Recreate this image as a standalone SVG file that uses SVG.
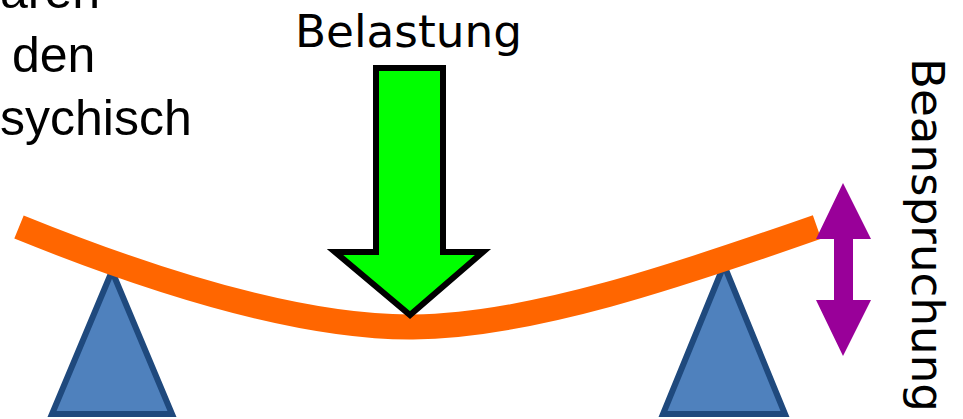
<svg xmlns="http://www.w3.org/2000/svg" width="963" height="419" viewBox="0 0 963 419">
<style>
.lbl{font-family:"Liberation Sans",Arial,sans-serif;font-size:50px;fill:#000}
.tah{font-family:"DejaVu Sans",Verdana,sans-serif;fill:#000}
.sup{fill:#4F81BD;stroke:#1F497D;stroke-width:6;stroke-linejoin:miter}
</style>
<rect width="963" height="419" fill="#fff"/>
<g id="side-text">
<text class="lbl" x="0" y="8">aren</text>
<text class="lbl" x="12" y="72">den</text>
<text class="lbl" x="0" y="135">sychisch</text>
</g>
<g id="support-left"><polygon class="sup" points="112,271 52,414 172,414"/></g>
<g id="support-right"><polygon class="sup" points="724,265 663,414 785,414"/></g>
<g id="beam"><path d="M19,227 C150,280 300,328 413,327 C530,326 680,275 817,227" fill="none" stroke="#FF6600" stroke-width="25"/></g>
<g id="load">
<polygon points="376,68 443,68 443,252 483,252 410,315 335,252 376,252" fill="#00FF00" stroke="#000" stroke-width="6"/>
<text class="tah" x="295" y="47" font-size="45" textLength="227" lengthAdjust="spacingAndGlyphs">Belastung</text>
</g>
<g id="stress">
<polygon points="843,183 871,239 853,239 853,300 871,300 843,356 816,300 834,300 834,239 816,239" fill="#990099"/>
<text class="tah" transform="translate(912,58) rotate(90)" font-size="44" textLength="354" lengthAdjust="spacingAndGlyphs">Beanspruchung</text>
</g>
</svg>
